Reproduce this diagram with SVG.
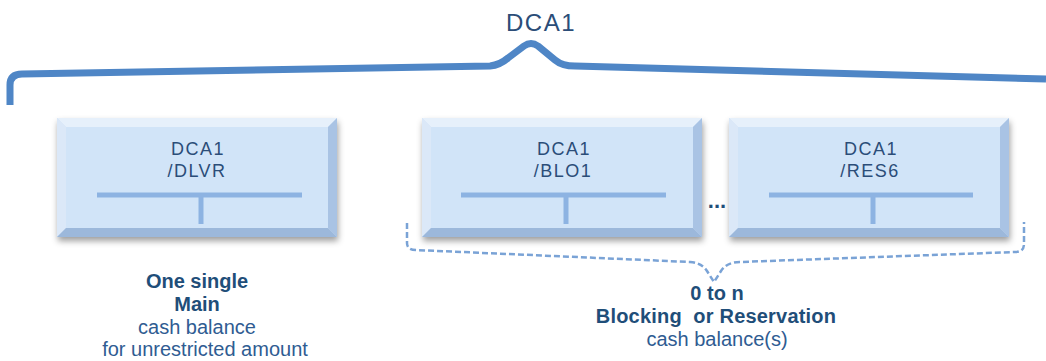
<svg xmlns="http://www.w3.org/2000/svg" width="1046" height="361" viewBox="0 0 1046 361">
<style>
.bx{font-family:"Liberation Sans",Arial,sans-serif;font-size:18px;fill:#2b4d78;text-anchor:middle;letter-spacing:1.5px}
.b{font-family:"Liberation Sans",Arial,sans-serif;font-weight:bold;font-size:20px;fill:#1f4e79;text-anchor:middle}
.r{font-family:"Liberation Sans",Arial,sans-serif;font-size:20px;fill:#2f5c92;text-anchor:middle}
.tl{stroke:#8db3e2;stroke-width:5;fill:none}
</style>
<defs>
<filter id="sh" x="-10%" y="-10%" width="125%" height="135%">
<feDropShadow dx="1" dy="4" stdDeviation="3" flood-color="#000" flood-opacity="0.38"/>
</filter>
<symbol id="box" viewBox="0 0 280 119" width="280" height="119" overflow="visible">
<g filter="url(#sh)">
<rect x="0" y="0" width="280" height="119" fill="#cfe2f7"/>
</g>
<polygon points="0,0 280,0 271,9 9,9" fill="#e6f0fb"/>
<polygon points="0,0 9,9 9,110 0,119" fill="#dbe8f8"/>
<polygon points="280,0 280,119 271,110 271,9" fill="#a9c3e4"/>
<polygon points="0,119 9,110 271,110 280,119" fill="#9cb8db"/>
<rect x="9" y="9" width="262" height="101" fill="#d1e4f8"/>
</symbol>
</defs>
<text x="541" y="31" font-family="'Liberation Sans',Arial,sans-serif" font-size="24" fill="#2b4d78" text-anchor="middle" letter-spacing="1.5">DCA1</text>
<g id="connectors">
<path d="M10,105 L10,85 Q10,74 22,74 L490,66 Q500,65 508,58 L524,46 Q531,41 538,46 L555,60 Q562,66 575,66 L1046,79" fill="none" stroke="#4f86c6" stroke-width="7" stroke-linejoin="round"/>
<path d="M407,223 L407,243 Q407,250 416,250 L690,262 Q702,263 707,271 L714,282 L721,271 Q727,262 740,262 L1015,252 Q1024,252 1024,244 L1024,222" fill="none" stroke="#7aa3d6" stroke-width="2.5" stroke-dasharray="6 3"/>
</g>
<g id="dlvr">
<use href="#box" x="57" y="118"/>
<text class="bx" x="198" y="155">DCA1</text>
<text class="bx" x="197" y="177">/DLVR</text>
<path class="tl" d="M97,195 H302 M201,195 V224"/>
</g>
<g id="blo1">
<use href="#box" x="422" y="118"/>
<text class="bx" x="564" y="155">DCA1</text>
<text class="bx" x="563" y="177">/BLO1</text>
<path class="tl" d="M461,195 H666 M566,195 V224"/>
</g>
<text x="717" y="208" font-family="'Liberation Sans',Arial,sans-serif" font-weight="bold" font-size="22" fill="#1f4e79" text-anchor="middle">...</text>
<g id="res6">
<use href="#box" x="729" y="118"/>
<text class="bx" x="871" y="155">DCA1</text>
<text class="bx" x="870" y="177">/RES6</text>
<path class="tl" d="M769,195 H973 M873,195 V224"/>
</g>
<g id="label-main">
<text class="b" x="197" y="288">One single</text>
<text class="b" x="197" y="311">Main</text>
<text class="r" x="197" y="334">cash balance</text>
<text class="r" x="205" y="356">for unrestricted amount</text>
</g>
<g id="label-blocking">
<text class="b" x="717" y="300">0 to n</text>
<text class="b" x="716" y="323" letter-spacing="0.2">Blocking&#160; or Reservation</text>
<text class="r" x="717" y="346">cash balance(s)</text>
</g>
</svg>
